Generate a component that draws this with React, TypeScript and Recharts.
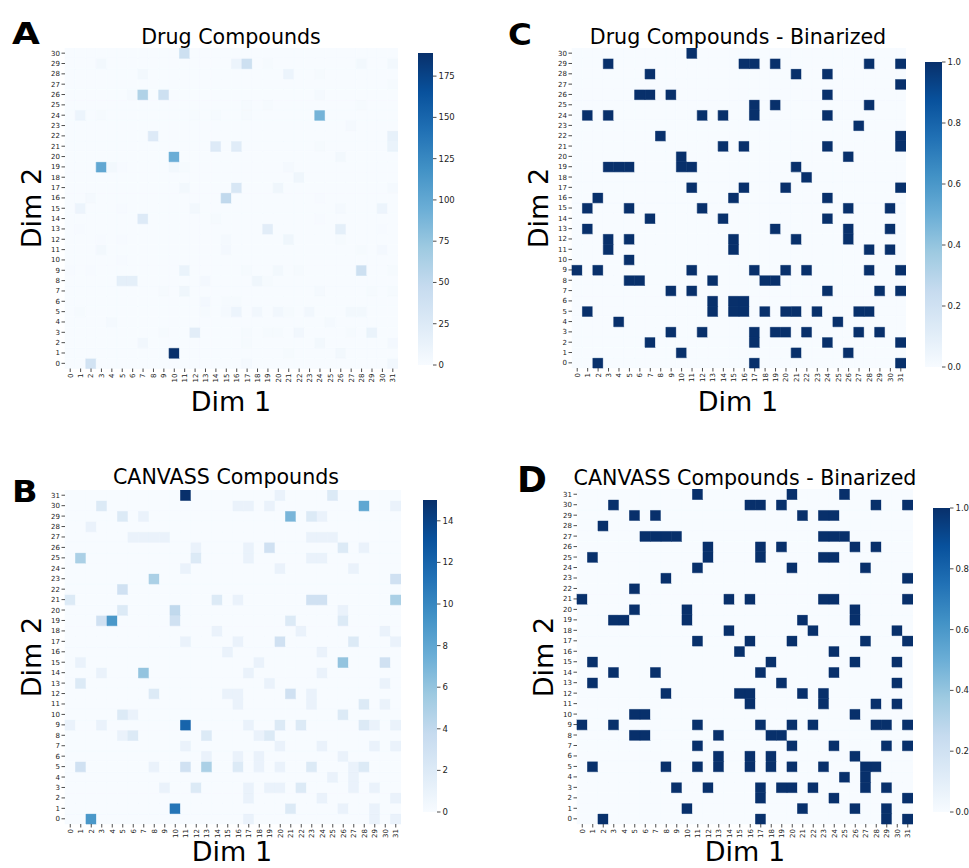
import { BarChart, Bar, XAxis, YAxis, Cell } from 'recharts'

type Count = [number, number, number] // [dim1, dim2, count]

// Drug compounds: non-zero cells of the 32 x 31 grid
const DRUG_COUNTS: Count[] = [
  [11, 30, 40],
  [3, 29, 5], [16, 29, 10], [17, 29, 40], [19, 29, 2], [28, 29, 5], [31, 29, 5],
  [7, 28, 5], [21, 28, 10], [24, 28, 2],
  [31, 27, 2],
  [6, 26, 3], [7, 26, 60], [9, 26, 40], [24, 26, 3],
  [17, 25, 2], [19, 25, 2], [28, 25, 2],
  [1, 24, 10], [3, 24, 2], [12, 24, 2], [14, 24, 2], [17, 24, 2], [24, 24, 90],
  [27, 23, 3],
  [8, 22, 25], [31, 22, 15],
  [14, 21, 25], [16, 21, 22], [24, 21, 2], [31, 21, 12],
  [10, 20, 95], [26, 20, 5],
  [3, 19, 100], [4, 19, 5], [5, 19, 1], [10, 19, 5], [11, 19, 2], [21, 19, 3],
  [22, 18, 8],
  [11, 17, 5], [16, 17, 30], [20, 17, 8], [31, 17, 3],
  [2, 16, 3], [15, 16, 50], [24, 16, 1],
  [1, 15, 10], [5, 15, 1], [12, 15, 5], [26, 15, 3], [30, 15, 10],
  [7, 14, 25], [14, 14, 2], [24, 14, 1],
  [1, 13, 1], [19, 13, 20], [26, 13, 18], [30, 13, 1],
  [3, 12, 1], [5, 12, 1], [15, 12, 3], [21, 12, 8], [26, 12, 2],
  [3, 11, 5], [15, 11, 4], [28, 11, 2], [30, 11, 4],
  [5, 10, 1],
  [0, 9, 1], [2, 9, 1], [11, 9, 12], [17, 9, 2], [20, 9, 5], [22, 9, 2], [28, 9, 40], [31, 9, 2],
  [5, 8, 18], [6, 8, 18], [13, 8, 4], [18, 8, 8], [19, 8, 2],
  [9, 7, 2], [11, 7, 8], [24, 7, 3], [29, 7, 2], [31, 7, 2],
  [13, 6, 4], [15, 6, 2], [16, 6, 2],
  [1, 5, 2], [13, 5, 2], [15, 5, 3], [16, 5, 10], [18, 5, 6], [20, 5, 6], [21, 5, 2], [23, 5, 6], [27, 5, 5], [28, 5, 5],
  [4, 4, 3], [25, 4, 3],
  [9, 3, 2], [12, 3, 20], [17, 3, 2], [19, 3, 2], [20, 3, 2], [22, 3, 6], [27, 3, 2], [29, 3, 12],
  [7, 2, 6], [17, 2, 2], [24, 2, 5], [31, 2, 4],
  [10, 1, 189], [21, 1, 2], [26, 1, 5],
  [2, 0, 35], [17, 0, 3], [31, 0, 6],
]

// CANVASS compounds: non-zero cells of the 32 x 32 grid
const CANVASS_COUNTS: Count[] = [
  [11, 31, 15], [20, 31, 1], [25, 31, 2],
  [3, 30, 2], [16, 30, 1], [17, 30, 1], [19, 30, 1], [28, 30, 8], [31, 30, 1],
  [5, 29, 2], [7, 29, 1], [21, 29, 7], [23, 29, 2], [24, 29, 1],
  [2, 28, 1],
  [6, 27, 1], [7, 27, 1], [8, 27, 1], [9, 27, 1], [23, 27, 1], [24, 27, 1], [25, 27, 1],
  [12, 26, 1], [17, 26, 1], [19, 26, 3], [26, 26, 2], [28, 26, 1],
  [1, 25, 5], [12, 25, 2], [17, 25, 1], [23, 25, 1], [24, 25, 1],
  [11, 24, 1], [20, 24, 1], [27, 24, 1],
  [8, 23, 5], [31, 23, 3],
  [5, 22, 3],
  [0, 21, 2], [14, 21, 2], [16, 21, 1], [23, 21, 3], [24, 21, 3], [31, 21, 5],
  [5, 20, 2], [10, 20, 4], [26, 20, 1],
  [3, 19, 3], [4, 19, 9], [10, 19, 3], [21, 19, 2], [26, 19, 2],
  [14, 18, 1], [22, 18, 1], [30, 18, 1],
  [11, 17, 1], [16, 17, 1], [20, 17, 3], [27, 17, 2], [31, 17, 1],
  [15, 16, 1], [24, 16, 1],
  [1, 15, 1], [18, 15, 1], [26, 15, 6], [30, 15, 3],
  [3, 14, 1], [7, 14, 6], [17, 14, 1], [24, 14, 1],
  [1, 13, 2], [19, 13, 1], [30, 13, 1],
  [8, 12, 2], [15, 12, 1], [16, 12, 1], [21, 12, 3], [23, 12, 1],
  [16, 11, 1], [23, 11, 1], [28, 11, 2], [30, 11, 1],
  [5, 10, 2], [6, 10, 1], [26, 10, 2],
  [0, 9, 1], [3, 9, 1], [11, 9, 12], [17, 9, 1], [20, 9, 2], [22, 9, 2], [28, 9, 2], [29, 9, 1], [31, 9, 1],
  [5, 8, 1], [6, 8, 2], [13, 8, 2], [18, 8, 1], [19, 8, 2],
  [11, 7, 1], [20, 7, 1], [24, 7, 1], [29, 7, 1], [31, 7, 1],
  [13, 6, 1], [16, 6, 1], [18, 6, 1], [26, 6, 1],
  [1, 5, 3], [8, 5, 1], [11, 5, 3], [13, 5, 5], [16, 5, 2], [18, 5, 1], [20, 5, 1], [23, 5, 2], [27, 5, 1], [28, 5, 2],
  [25, 4, 1], [27, 4, 1],
  [9, 3, 1], [12, 3, 2], [17, 3, 1], [19, 3, 1], [20, 3, 1], [22, 3, 2], [27, 3, 1], [29, 3, 1],
  [17, 2, 1], [24, 2, 1], [31, 2, 1],
  [10, 1, 11], [21, 1, 2], [26, 1, 1], [29, 1, 1],
  [2, 0, 9], [17, 0, 1], [29, 0, 1], [31, 0, 1],
]

const DRUG_MAX = 189
const CANVASS_MAX = 15
const DRUG_CBAR_TICKS = [0, 25, 50, 75, 100, 125, 150, 175]
const CANVASS_CBAR_TICKS = [0, 2, 4, 6, 8, 10, 12, 14]
const BINARY_CBAR_TICKS = [0, 0.2, 0.4, 0.6, 0.8, 1.0]

// matplotlib "Blues"
const BLUES = ['#f7fbff', '#deebf7', '#c6dbef', '#9ecae1', '#6baed6', '#4292c6', '#2171b5', '#08519c', '#08306b']

const hexToRgb = (h: string) => [1, 3, 5].map((i) => parseInt(h.slice(i, i + 2), 16))

function blues(t: number) {
  const x = Math.max(0, Math.min(1, t)) * (BLUES.length - 1)
  const i = Math.min(Math.floor(x), BLUES.length - 2)
  const f = x - i
  const a = hexToRgb(BLUES[i])
  const b = hexToRgb(BLUES[i + 1])
  const c = a.map((v, k) => Math.round(v + (b[k] - v) * f))
  return `rgb(${c[0]},${c[1]},${c[2]})`
}

const TEXT = '#222'
const Y_W = 30
const X_H = 26

interface Box { x: number; y: number; w: number; h: number }

function RotatedTick(props: any) {
  const { x, y, payload } = props
  return (
    <text x={x} y={y} transform={`rotate(-90, ${x}, ${y})`} textAnchor="end" dy="0.35em" fontSize={7} fill={TEXT}>
      {payload.value}
    </text>
  )
}

interface HeatmapProps {
  counts: Count[]
  nCols: number
  nRows: number
  vmax: number
  binary?: boolean
  box: Box
}

function Heatmap({ counts, nCols, nRows, vmax, binary, box }: HeatmapProps) {
  const grid: number[][] = Array.from({ length: nRows }, () => Array(nCols).fill(0))
  counts.forEach(([c, r, v]) => { grid[r][c] = v })
  const rows = Array.from({ length: nRows }, (_, r) => r)
  const data = Array.from({ length: nCols }, (_, c) => {
    const d: Record<string, number> = { col: c }
    rows.forEach((r) => { d[`r${r}`] = 1 })
    return d
  })
  const yTicks = rows.map((r) => r + 0.5)
  const band = box.w / nCols
  const colorOf = (v: number) => (binary ? blues(v > 0 ? 1 : 0) : blues(v / vmax))

  return (
    <div style={{ position: 'absolute', left: box.x - Y_W, top: box.y }}>
      <BarChart
        width={box.w + Y_W}
        height={box.h + X_H}
        data={data}
        margin={{ top: 0, right: 0, bottom: 0, left: 0 }}
        barCategoryGap={0}
        barGap={0}
      >
        <XAxis
          dataKey="col"
          type="category"
          interval={0}
          height={X_H}
          axisLine={false}
          tickSize={3.5}
          tickMargin={1.5}
          tickLine={{ stroke: TEXT, strokeWidth: 0.8 }}
          tick={(p: any) => <RotatedTick {...p} />}
        />
        <YAxis
          type="number"
          domain={[0, nRows]}
          ticks={yTicks}
          interval={0}
          width={Y_W}
          axisLine={false}
          tickSize={3.5}
          tickMargin={1.5}
          tickLine={{ stroke: TEXT, strokeWidth: 0.8 }}
          tick={{ fontSize: 7, fill: TEXT }}
          tickFormatter={(v: number) => String(Math.round(v - 0.5))}
        />
        {rows.map((r) => (
          <Bar key={r} dataKey={`r${r}`} stackId="grid" barSize={band - 0.02} isAnimationActive={false}>
            {data.map((_, c) => {
              const col = colorOf(grid[r][c])
              return <Cell key={c} fill={col} stroke={col} strokeWidth={0.6} />
            })}
          </Bar>
        ))}
      </BarChart>
    </div>
  )
}

interface ColorBarProps {
  id: string
  vmax: number
  ticks: number[]
  digits: number
  box: Box
}

function ColorBar({ id, vmax, ticks, digits, box }: ColorBarProps) {
  return (
    <div style={{ position: 'absolute', left: box.x, top: box.y - 6 }}>
      <BarChart
        width={box.w + 34}
        height={box.h + 12}
        data={[{ k: 'cbar', v: vmax }]}
        margin={{ top: 6, right: 0, bottom: 6, left: 0 }}
        barCategoryGap={0}
      >
        <defs>
          <linearGradient id={id} x1="0" y1="1" x2="0" y2="0">
            {BLUES.map((c, i) => (
              <stop key={i} offset={i / (BLUES.length - 1)} stopColor={c} />
            ))}
          </linearGradient>
        </defs>
        <XAxis dataKey="k" hide />
        <YAxis
          orientation="right"
          type="number"
          domain={[0, vmax]}
          ticks={ticks}
          interval={0}
          width={34}
          axisLine={false}
          tickSize={3.5}
          tickMargin={2}
          tickLine={{ stroke: TEXT, strokeWidth: 0.8 }}
          tick={{ fontSize: 8.5, fill: TEXT }}
          tickFormatter={(v: number) => v.toFixed(digits)}
        />
        <Bar dataKey="v" fill={`url(#${id})`} isAnimationActive={false} />
      </BarChart>
    </div>
  )
}

interface LabelSet {
  letter: string
  letterX: number
  letterY: number
  letterSize: number
  letterScale: number
  title: string
  titleX: number
  titleY: number
  dim1X: number
  dim1Y: number
  dim2X: number
  dim2Y: number
}

const LABELS: LabelSet[] = [
  { letter: 'A', letterX: 12, letterY: 44, letterSize: 30, letterScale: 1.2, title: 'Drug Compounds', titleX: 231, titleY: 43.5, dim1X: 231, dim1Y: 411, dim2X: 41, dim2Y: 208 },
  { letter: 'C', letterX: 508, letterY: 45, letterSize: 31, letterScale: 1.05, title: 'Drug Compounds - Binarized', titleX: 738, titleY: 43.5, dim1X: 738, dim1Y: 411, dim2X: 548, dim2Y: 208 },
  { letter: 'B', letterX: 12, letterY: 502, letterSize: 30, letterScale: 1.12, title: 'CANVASS Compounds', titleX: 226, titleY: 483.5, dim1X: 232, dim1Y: 861, dim2X: 41, dim2Y: 657 },
  { letter: 'D', letterX: 517, letterY: 492, letterSize: 36, letterScale: 1.0, title: 'CANVASS Compounds - Binarized', titleX: 745, titleY: 485, dim1X: 745, dim1Y: 861, dim2X: 553, dim2Y: 657 },
]

export default function App() {
  return (
    <div
      style={{
        position: 'absolute',
        left: 0,
        top: 0,
        width: 969,
        height: 868,
        background: '#fff',
        overflow: 'hidden',
        fontFamily: 'DejaVu Sans, sans-serif',
      }}
    >
      <Heatmap counts={DRUG_COUNTS} nCols={32} nRows={31} vmax={DRUG_MAX} box={{ x: 64.5, y: 48, w: 333, h: 320.5 }} />
      <ColorBar id="cbarA" vmax={DRUG_MAX} ticks={DRUG_CBAR_TICKS} digits={0} box={{ x: 418, y: 53, w: 15, h: 312 }} />

      <Heatmap counts={DRUG_COUNTS} nCols={32} nRows={31} vmax={1} binary box={{ x: 571.5, y: 48, w: 334, h: 320 }} />
      <ColorBar id="cbarC" vmax={1} ticks={BINARY_CBAR_TICKS} digits={1} box={{ x: 925, y: 62, w: 17, h: 305 }} />

      <Heatmap counts={CANVASS_COUNTS} nCols={32} nRows={32} vmax={CANVASS_MAX} box={{ x: 65, y: 490, w: 336, h: 334 }} />
      <ColorBar id="cbarB" vmax={CANVASS_MAX} ticks={CANVASS_CBAR_TICKS} digits={0} box={{ x: 423, y: 500, w: 14, h: 312 }} />

      <Heatmap counts={CANVASS_COUNTS} nCols={32} nRows={32} vmax={1} binary box={{ x: 577, y: 489, w: 336, h: 335 }} />
      <ColorBar id="cbarD" vmax={1} ticks={BINARY_CBAR_TICKS} digits={1} box={{ x: 933, y: 508, w: 17, h: 304 }} />

      <svg width={969} height={868} style={{ position: 'absolute', left: 0, top: 0, pointerEvents: 'none' }}>
        {LABELS.map((l) => (
          <g key={l.letter}>
            <text
              transform={`translate(${l.letterX}, ${l.letterY}) scale(${l.letterScale}, 1)`}
              fontSize={l.letterSize}
              fontWeight="bold"
              fill="#000"
            >
              {l.letter}
            </text>
            <text x={l.titleX} y={l.titleY} textAnchor="middle" fontSize={20.6} fill="#000">
              {l.title}
            </text>
            <text x={l.dim1X} y={l.dim1Y} textAnchor="middle" fontSize={27} fill="#000">
              Dim 1
            </text>
            <text
              transform={`translate(${l.dim2X}, ${l.dim2Y}) rotate(-90)`}
              textAnchor="middle"
              fontSize={27}
              fill="#000"
            >
              Dim 2
            </text>
          </g>
        ))}
      </svg>
    </div>
  )
}
